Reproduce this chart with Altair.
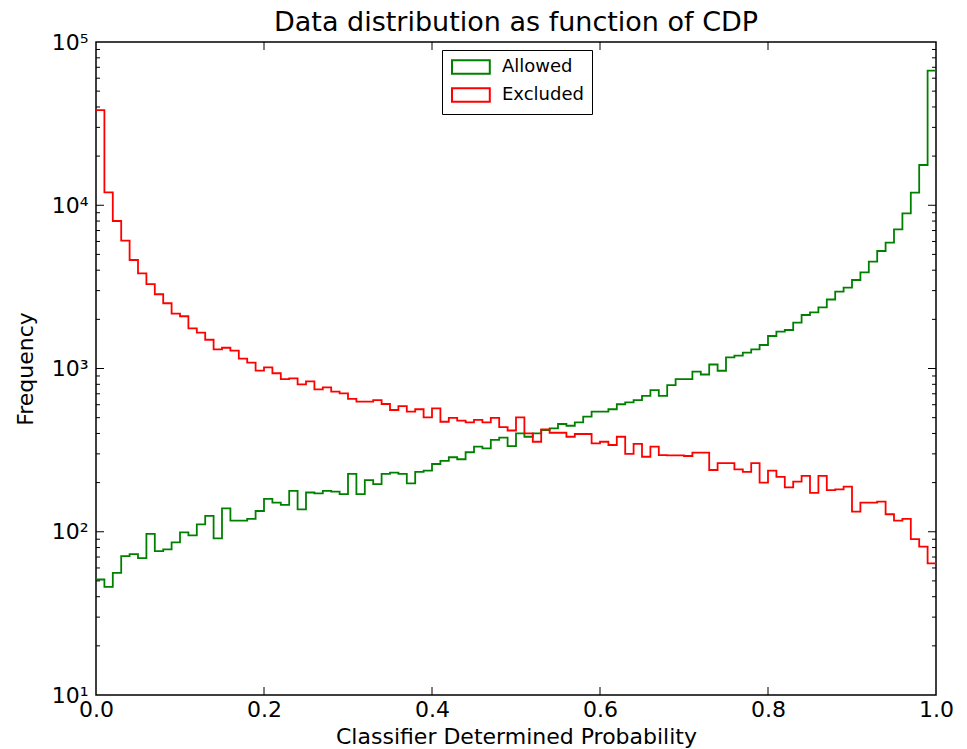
import altair as alt
import pandas as pd

# ---- data (100 bins over [0, 1]) ----
allowed = [51, 46, 56, 71, 73, 69, 97, 76, 78, 86,
           99, 95, 111, 125, 91, 139, 117, 117, 120, 134,
           159, 151, 146, 178, 137, 174, 172, 178, 176, 170,
           226, 170, 207, 196, 226, 230, 226, 198, 233, 237,
           260, 272, 286, 278, 307, 332, 324, 365, 377, 335,
           401, 382, 401, 420, 430, 457, 446, 468, 507, 544,
           544, 563, 604, 621, 641, 679, 738, 679, 792, 862,
           862, 956, 919, 1058, 969, 1171, 1198, 1250, 1311, 1393,
           1582, 1680, 1721, 1908, 2127, 2210, 2371, 2647, 2954, 3125,
           3484, 3885, 4510, 5245, 5897, 7124, 8928, 11940, 17640, 66700]

excluded = [38300, 12000, 8010, 6070, 4620, 3830, 3290, 2850, 2510, 2170,
            2090, 1760, 1660, 1500, 1310, 1340, 1285, 1150, 1085, 970,
            1017, 935, 860, 871, 800, 835, 746, 767, 721, 705,
            651, 626, 626, 641, 606, 557, 589, 544, 563, 502,
            570, 472, 499, 479, 468, 484, 468, 499, 438, 417,
            502, 401, 356, 424, 404, 404, 382, 397, 397, 348,
            356, 340, 382, 300, 345, 288, 332, 295, 294, 294,
            291, 305, 305, 239, 263, 263, 241, 233, 263, 200,
            237, 217, 187, 203, 220, 173, 220, 180, 182, 189,
            133, 151, 151, 153, 128, 117, 120, 90, 81, 64]

series_names = ["Allowed", "Excluded"]
series_colors = ["#008000", "#ff0000"]

n_bins = 100
bin_edges = [i / n_bins for i in range(n_bins + 1)]

x_tick_values = [0.0, 0.2, 0.4, 0.6, 0.8, 1.0]
x_inner_ticks = [0.2, 0.4, 0.6, 0.8]
y_tick_values = [10, 100, 1000, 10000, 100000]
y_major_inner = [100, 1000, 10000]
y_minor_inner = [k * 10 ** d for d in range(1, 5) for k in range(2, 10)]

# ---- tables ----
rows = []
for name, vals in zip(series_names, [allowed, excluded]):
    for i, v in enumerate(vals):
        rows.append({"x": bin_edges[i], "count": v, "series": name})
    rows.append({"x": bin_edges[-1], "count": vals[-1], "series": name})
df = pd.DataFrame(rows)

W, H = 840, 653
FONT = "DejaVu Sans"

xscale = alt.Scale(domain=[0, 1], nice=False, zero=False)
yscale = alt.Scale(type="log", domain=[10, 100000], nice=False)

sup = "['\u2070','\u00b9','\u00b2','\u00b3','\u2074','\u2075']"

xaxis = alt.Axis(values=x_tick_values, format=".1f", ticks=False, domain=False,
                 grid=False, labelFlush=False, labelPadding=4,
                 labelFontSize=22, labelFont=FONT, labelColor="black",
                 title="Classifier Determined Probability", titleFontSize=22,
                 titleFont=FONT, titleFontWeight="normal", titleColor="black",
                 titlePadding=6)
yaxis = alt.Axis(values=y_tick_values, ticks=False, domain=False, grid=False,
                 labelExpr="'10' + " + sup + "[round(log(datum.value)/LN10)]",
                 labelPadding=8, labelFontSize=22, labelFont=FONT,
                 labelColor="black", title="Frequency", titleFontSize=22,
                 titleFont=FONT, titleFontWeight="normal", titleColor="black",
                 titlePadding=14)

lines = alt.Chart(df).mark_line(interpolate="step-after", strokeWidth=1.8, clip=True).encode(
    x=alt.X("x:Q", scale=xscale, axis=xaxis),
    y=alt.Y("count:Q", scale=yscale, axis=yaxis),
    color=alt.Color("series:N",
                    scale=alt.Scale(domain=series_names, range=series_colors),
                    legend=alt.Legend(orient="none", legendX=346, legendY=8, title=None,
                                      symbolType="M-1,-0.95H4.4V0.95H-1Z", symbolSize=196,
                                      symbolStrokeWidth=2, symbolFillColor="white",
                                      labelFontSize=18, labelFont=FONT, labelColor="black",
                                      padding=8, rowPadding=6, labelOffset=34,
                                      strokeColor="black", fillColor="white")),
)

ymaj_df = pd.DataFrame({"v": y_major_inner})
ymin_df = pd.DataFrame({"v": y_minor_inner})
xmaj_df = pd.DataFrame({"v": x_inner_ticks})

tick_style = dict(color="black", strokeWidth=1)

def yticks(data, length):
    left = alt.Chart(data).mark_rule(**tick_style).encode(
        y=alt.Y("v:Q", scale=yscale, axis=yaxis), x=alt.value(0), x2=alt.value(length))
    right = alt.Chart(data).mark_rule(**tick_style).encode(
        y=alt.Y("v:Q", scale=yscale, axis=yaxis), x=alt.value(W), x2=alt.value(W - length))
    return [left, right]

xt_bottom = alt.Chart(xmaj_df).mark_rule(**tick_style).encode(
    x=alt.X("v:Q", scale=xscale, axis=xaxis), y=alt.value(H), y2=alt.value(H - 8))
xt_top = alt.Chart(xmaj_df).mark_rule(**tick_style).encode(
    x=alt.X("v:Q", scale=xscale, axis=xaxis), y=alt.value(0), y2=alt.value(8))

chart = alt.layer(
    lines, *yticks(ymaj_df, 8), *yticks(ymin_df, 4), xt_bottom, xt_top
).properties(
    width=W, height=H,
    title=alt.Title("Data distribution as function of CDP", fontSize=27, font=FONT,
                    fontWeight="normal", color="black", offset=-6, anchor="middle"),
    autosize=alt.AutoSizeParams(type="none"),
    padding={"left": 88, "top": 34, "right": 20, "bottom": 54},
).configure(background="white").configure_view(stroke="black", strokeWidth=1.5)

chart.save("out.html", embed_options={"renderer": "svg", "actions": False})
